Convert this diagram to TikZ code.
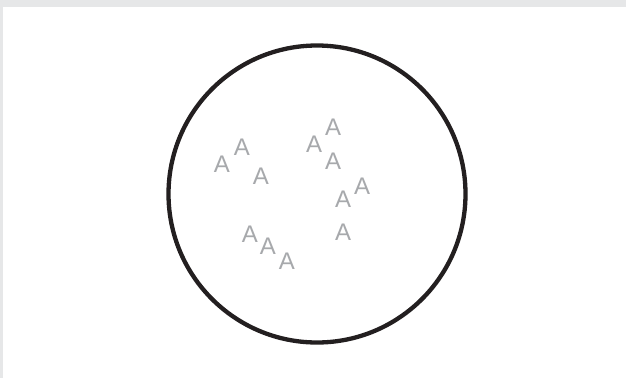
\documentclass[tikz,border=0pt]{standalone}
\usepackage{fontspec}
\setmainfont{Liberation Sans}
\usepackage{xcolor}
\usepackage{tikz}
\usetikzlibrary{positioning}
\definecolor{framegray}{HTML}{E6E7E8}
\definecolor{lettergray}{HTML}{A7A9AC}
\definecolor{ringblack}{HTML}{231F20}

\begin{document}
\begin{tikzpicture}[x=1pt, y=-1pt, every node/.style={font=\fontsize{24}{24}\selectfont}]
\tikzset{letter/.style={text=lettergray, inner sep=0pt}}

% frame
\fill[framegray] (0,0) rectangle (626,378);
\fill[white] (3,7) rectangle (626,378);
\useasboundingbox (0,0) rectangle (626,378);

% the ring
\coordinate (c) at (317,194);
\draw[ringblack, line width=4.3pt] (c) circle (148.5);

% the letters
\foreach \n/\x/\y in {a1/222/164, a2/242/147, a3/261/176, a4/314/144, a5/333/127, a6/333/161,
  a7/343/199, a8/362/186, a9/343/232, a10/250/234, a11/268/246, a12/287/261} {
  \node[letter] (\n) at (\x,\y) {A};
}

\end{tikzpicture}
\end{document}
